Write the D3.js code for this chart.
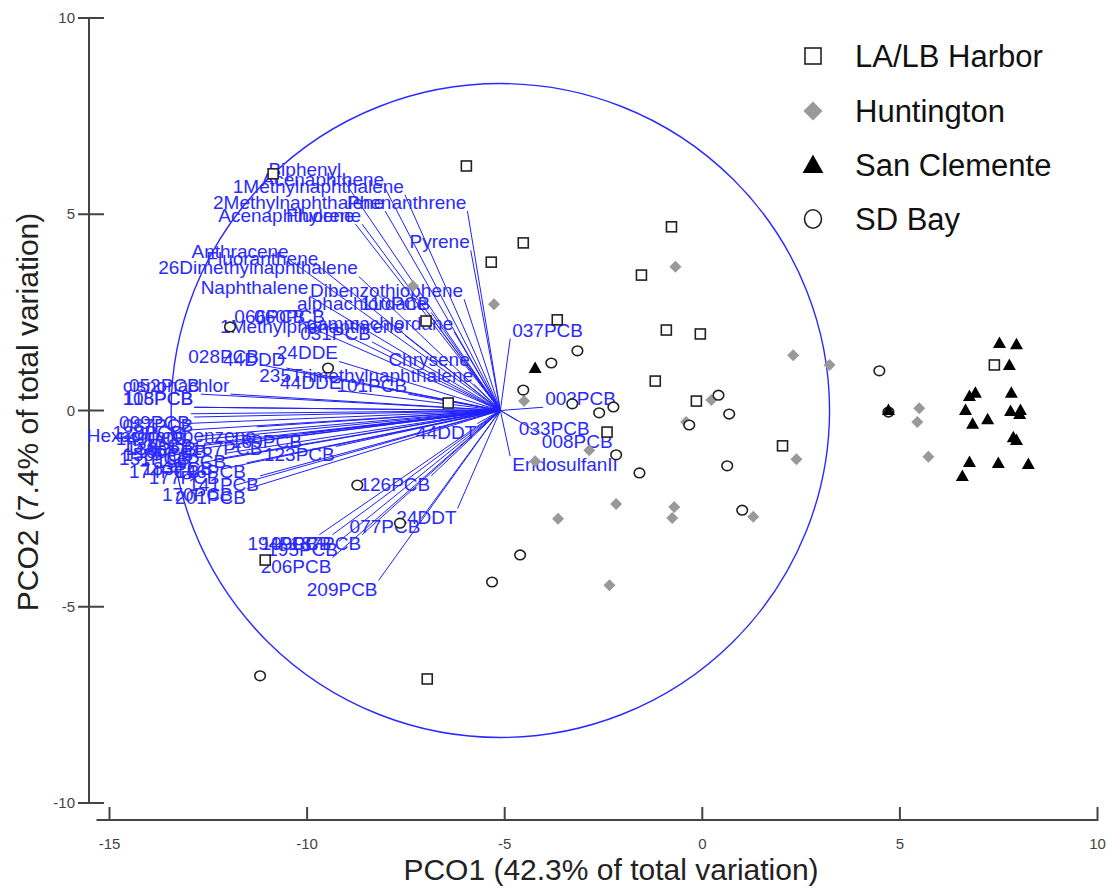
<!DOCTYPE html>
<html>
<head>
<meta charset="utf-8">
<title>PCO biplot</title>
<script src="https://cdn.jsdelivr.net/npm/d3@7/dist/d3.min.js"></script>
<style>
  body { margin: 0; background: #fff; }
  svg { display: block; font-family: "Liberation Sans", Arial, sans-serif; }
  .axis line, .axis path { stroke: #444; stroke-width: 2; }
  .tick-label { font-size: 15px; fill: #444; }
  .title { font-size: 30px; fill: #222; }
  .vec line { stroke: #1f1fff; stroke-width: 1; }
  .vec text { font-size: 19px; fill: #2a2aff; }
  .legend text { font-size: 31px; fill: #111; }
</style>
</head>
<body>
<svg width="1112" height="888"></svg>
<script>
// --- sample scores (PCO1, PCO2) by site ---
const harborX = [-5.97, -4.53, -5.34, -0.78, -1.54, -3.67, -0.91, -0.05, -1.19, -0.15, -2.41, -6.43, 2.03, -6.96, -10.86, -6.99, -11.06, 7.39];
const harborY = [6.23, 4.27, 3.78, 4.68, 3.45, 2.31, 2.05, 1.95, 0.75, 0.24, -0.55, 0.19, -0.90, -6.84, 6.03, 2.28, -3.81, 1.16];

const huntX = [-0.68, -5.27, -4.51, 0.23, -0.41, -2.86, -4.23, 2.38, -2.18, -3.65, -0.71, -0.76, 1.29, -2.35, -7.32, 5.49, 5.44, 5.72, 2.30, 3.22];
const huntY = [3.66, 2.71, 0.24, 0.27, -0.29, -1.01, -1.29, -1.24, -2.38, -2.76, -2.46, -2.74, -2.71, -4.45, 3.17, 0.06, -0.29, -1.18, 1.41, 1.16];

const sanX = [-4.23, 7.52, 7.95, 7.77, 6.76, 6.91, 7.82, 6.66, 6.84, 7.22, 7.80, 8.05, 8.03, 7.87, 7.95, 6.76, 7.49, 8.25, 6.58, 4.71];
const sanY = [1.08, 1.72, 1.69, 1.16, 0.37, 0.45, 0.45, 0.01, -0.34, -0.22, -0.01, 0.01, -0.09, -0.68, -0.75, -1.31, -1.34, -1.36, -1.67, 0.01];

const sdX = [-3.16, -3.82, -4.53, 0.41, 0.68, -2.61, -2.25, -0.33, -3.29, -2.18, -1.59, 0.63, 1.01, -4.61, -5.32, 4.48, 4.71, -11.95, -9.47, -8.73, -7.65, -11.19];
const sdY = [1.52, 1.21, 0.52, 0.39, -0.09, -0.06, 0.09, -0.37, 0.17, -1.13, -1.59, -1.41, -2.54, -3.68, -4.37, 1.01, -0.04, 2.13, 1.08, -1.90, -2.87, -6.76];

// --- vector overlay (correlations with PCO1/PCO2) ---
const vecNames = [
  "Biphenyl", "Acenaphthene", "1Methylnaphthalene", "2Methylnaphthalene", "Phenanthrene",
  "Acenaphthylene", "Fluorene", "Pyrene", "Anthracene", "Fluoranthene",
  "26Dimethylnaphthalene", "Naphthalene", "Dibenzothiophene", "alphachlordane", "110PCB",
  "066PCB", "060PCB", "1Methylphenanthrene", "gammachlordane", "031PCB",
  "037PCB", "028PCB", "44DDD", "24DDE", "Chrysene",
  "235Trimethylnaphthalene", "44DDE", "101PCB", "cisnonachlor", "052PCB",
  "118PCB", "105PCB", "099PCB", "087PCB", "Hexachlorobenzene",
  "149PCB", "153PCB", "138PCB", "180PCB", "151PCB",
  "158PCB", "174PCB", "177PCB", "141PCB", "170PCB",
  "201PCB", "123PCB", "167PCB", "189PCB", "44DDT",
  "126PCB", "24DDT", "077PCB", "194PCB", "199PCB",
  "187PCB", "195PCB", "206PCB", "209PCB", "003PCB",
  "033PCB", "008PCB", "EndosulfanII", "128PCB", "183PCB",
  "156PCB", "146PCB"
];
const vecX = [
  -0.48, -0.35, -0.29, -0.35, -0.10,
  -0.44, -0.42, -0.09, -0.64, -0.55,
  -0.43, -0.58, -0.11, -0.22, -0.21,
  -0.59, -0.53, -0.29, -0.14, -0.39,
  0.03, -0.73, -0.65, -0.49, -0.09,
  -0.08, -0.48, -0.28, -0.82, -0.91,
  -0.93, -0.93, -0.94, -0.93, -0.74,
  -0.95, -0.93, -0.92, -0.89, -0.94,
  -0.93, -0.91, -0.85, -0.73, -0.81,
  -0.77, -0.50, -0.72, -0.60, -0.07,
  -0.21, -0.13, -0.24, -0.55, -0.51,
  -0.42, -0.49, -0.51, -0.37, 0.13,
  0.05, 0.12, 0.03, -0.96, -0.87,
  -0.83, -0.77
];
const vecY = [
  0.71, 0.68, 0.66, 0.61, 0.61,
  0.57, 0.57, 0.49, 0.46, 0.44,
  0.41, 0.35, 0.34, 0.30, 0.30,
  0.26, 0.26, 0.23, 0.24, 0.21,
  0.22, 0.14, 0.13, 0.15, 0.13,
  0.08, 0.06, 0.05, 0.05, 0.05,
  0.01, 0.01, -0.01, -0.02, -0.05,
  -0.06, -0.08, -0.09, -0.10, -0.12,
  -0.11, -0.16, -0.18, -0.20, -0.23,
  -0.24, -0.11, -0.09, -0.07, -0.04,
  -0.20, -0.30, -0.33, -0.38, -0.38,
  -0.38, -0.40, -0.45, -0.52, 0.01,
  -0.03, -0.07, -0.14, -0.04, -0.15,
  -0.13, -0.16
];

// correlation circle: centre and radius in PCO units
const circleCentre = [-5.11, 0];
const circleRadius = 8.33;

const xTicks = [-15, -10, -5, 0, 5, 10];
const yTicks = [-10, -5, 0, 5, 10];

const groups = ["LA/LB Harbor", "Huntington", "San Clemente", "SD Bay"];

// --- drawing ---
const svg = d3.select("svg");
const x = d3.scaleLinear().domain([-15, 10]).range([109.5, 1097.5]);
const y = d3.scaleLinear().domain([-10, 10]).range([803, 18]);

const yAxisX = 89, xAxisY = 820;

// y axis
const ya = svg.append("g").attr("class", "axis");
ya.append("line").attr("x1", yAxisX).attr("x2", yAxisX).attr("y1", y(10)).attr("y2", y(-10));
ya.selectAll(".t").data(yTicks).enter().append("line")
  .attr("x1", yAxisX - 11).attr("x2", yAxisX + 15)
  .attr("y1", d => y(d)).attr("y2", d => y(d));
svg.selectAll(".ytl").data(yTicks).enter().append("text")
  .attr("class", "tick-label")
  .attr("x", yAxisX - 14).attr("y", d => y(d) + 5)
  .attr("text-anchor", "end")
  .text(d => String(d));

// x axis
const xa = svg.append("g").attr("class", "axis");
xa.append("line").attr("x1", x(-15) - 13).attr("x2", x(10)).attr("y1", xAxisY).attr("y2", xAxisY);
xa.selectAll(".t").data(xTicks).enter().append("line")
  .attr("x1", d => x(d)).attr("x2", d => x(d))
  .attr("y1", xAxisY - 13).attr("y2", xAxisY + 1);
svg.selectAll(".xtl").data(xTicks).enter().append("text")
  .attr("class", "tick-label")
  .attr("x", d => x(d)).attr("y", xAxisY + 29)
  .attr("text-anchor", "middle")
  .text(d => String(d));

// axis titles
svg.append("text").attr("class", "title")
  .attr("x", 611).attr("y", 880).attr("text-anchor", "middle")
  .text("PCO1 (42.3% of total variation)");
svg.append("text").attr("class", "title")
  .attr("transform", "translate(38,412) rotate(-90)").attr("text-anchor", "middle")
  .text("PCO2 (7.4% of total variation)");

// correlation circle
const cx0 = x(circleCentre[0]), cy0 = y(circleCentre[1]);
svg.append("ellipse")
  .attr("cx", cx0).attr("cy", cy0)
  .attr("rx", x(circleCentre[0] + circleRadius) - cx0)
  .attr("ry", cy0 - y(circleCentre[1] + circleRadius))
  .attr("fill", "none").attr("stroke", "#2a2aff").attr("stroke-width", 1.4);

// vectors
const vecs = vecNames.map((n, i) => ({
  name: n, vx: vecX[i], vy: vecY[i],
  ex: x(circleCentre[0] + vecX[i] * circleRadius),
  ey: y(circleCentre[1] + vecY[i] * circleRadius)
}));
const vg = svg.append("g").attr("class", "vec");
vg.selectAll("line").data(vecs).enter().append("line")
  .attr("x1", cx0).attr("y1", cy0)
  .attr("x2", d => d.ex).attr("y2", d => d.ey);
vg.selectAll("text").data(vecs).enter().append("text")
  .attr("x", d => d.vx < 0 ? d.ex - 1 : d.ex + 2)
  .attr("y", d => d.vy >= 0 ? d.ey - 2 : d.ey + 15)
  .attr("text-anchor", d => d.vx < 0 ? "end" : "start")
  .text(d => d.name);

// sample symbols
const symSquare = d3.symbol().type(d3.symbolSquare);

function drawGroup(xs, ys, draw) {
  const g = svg.append("g");
  xs.forEach((v, i) => draw(g.append("g").attr("transform", `translate(${x(v)},${y(ys[i])})`), 1));
}
const markers = [
  (g, k) => g.append("rect").attr("x", -5 * k).attr("y", -5 * k).attr("width", 10 * k).attr("height", 10 * k)
    .attr("fill", "#fff").attr("stroke", "#222").attr("stroke-width", 1.6),
  (g, k) => g.append("path").attr("d", symSquare.size(72 * k * k)()).attr("transform", "rotate(45)").attr("fill", "#999"),
  (g, k) => g.append("path").attr("d", `M0,${-6.5 * k}L${6.5 * k},${5 * k}L${-6.5 * k},${5 * k}Z`).attr("fill", "#000"),
  (g, k) => g.append("ellipse").attr("rx", 5.3 * k).attr("ry", 4.8 * k * (k > 1 ? 1.2 : 1))
    .attr("fill", "#fff").attr("stroke", "#222").attr("stroke-width", 1.6)
];
drawGroup(harborX, harborY, markers[0]);
drawGroup(huntX, huntY, markers[1]);
drawGroup(sdX, sdY, markers[3]);
drawGroup(sanX, sanY, markers[2]);

// legend
const lg = svg.append("g").attr("class", "legend");
const legendRows = [56, 111, 165, 219];
groups.forEach((name, i) => {
  const row = lg.append("g").attr("transform", `translate(813,${legendRows[i]})`);
  markers[i](row, 1.6);
  lg.append("text").attr("x", 855).attr("y", legendRows[i] + 11).text(name);
});
</script>
</body>
</html>
